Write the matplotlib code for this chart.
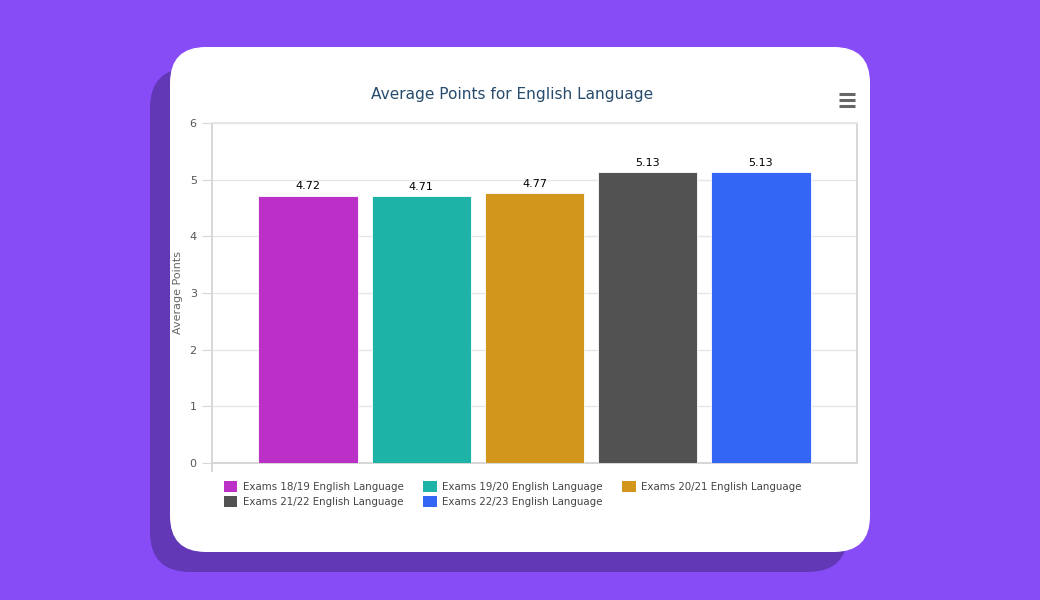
import matplotlib.pyplot as plt
from matplotlib.patches import FancyBboxPatch, Patch

# Datos del grafico
categorias = ['Exams 18/19 English Language', 'Exams 19/20 English Language',
              'Exams 20/21 English Language', 'Exams 21/22 English Language',
              'Exams 22/23 English Language']
puntos = [4.72, 4.71, 4.77, 5.13, 5.13]
colores = ['#bb30c6', '#1db3a7', '#d1961b', '#525252', '#3366f5']
etiquetas = ['4.72', '4.71', '4.77', '5.13', '5.13']

fig = plt.figure(figsize=(10.4, 6), dpi=100)
fig.patch.set_facecolor('#874cf6')

# Fondo: sombra y tarjeta blanca (coordenadas en pixeles)
fondo = fig.add_axes([0, 0, 1, 1], zorder=0)
fondo.set_xlim(0, 1040)
fondo.set_ylim(600, 0)
fondo.axis('off')
fondo.add_patch(FancyBboxPatch((150, 68), 698, 504, boxstyle='round,pad=0,rounding_size=40',
                               facecolor='#6238b7', edgecolor='none'))
fondo.add_patch(FancyBboxPatch((170, 47), 700, 505, boxstyle='round,pad=0,rounding_size=36',
                               facecolor='white', edgecolor='none'))
# icono de menu
for y in (94, 100, 106):
    fondo.plot([839, 855], [y, y], color='#666666', lw=2.2, solid_capstyle='butt')

fondo.text(512, 95, 'Average Points for English Language', ha='center', va='center',
           fontsize=11.1, color='#274b6d')

# Grafico de barras
ax = fig.add_axes([212 / 1040, 137 / 600, 645 / 1040, 340 / 600], zorder=1)
x = list(range(len(puntos)))
barras = ax.bar(x, puntos, width=0.88, color=colores, edgecolor='white', linewidth=0.6, zorder=3)
ax.bar_label(barras, labels=etiquetas, padding=3, fontsize=8, color='black')

ax.set_xlim(-0.85, 4.85)
ax.set_ylim(0, 6)
ax.set_yticks([0, 1, 2, 3, 4, 5, 6])
ax.set_xticks([])
ax.grid(axis='y', color='#e6e6e6', lw=1, zorder=0)
for lado in ['left', 'right', 'top', 'bottom']:
    ax.spines[lado].set_color('#d6d6d6')
    ax.spines[lado].set_linewidth(1.4)
ax.spines['top'].set_color('#e6e6e6')
ax.spines['left'].set_bounds(-0.14, 6)
ax.tick_params(axis='y', length=7, color='#d6d6d6', labelsize=8, labelcolor='#555555', pad=4)
ax.set_ylabel('Average Points', fontsize=8, color='#666666', labelpad=5)

manejadores = [Patch(facecolor=c, edgecolor='none') for c in colores]
orden = [0, 3, 1, 4, 2]
ax.legend([manejadores[i] for i in orden], [categorias[i] for i in orden],
          ncol=3, loc='upper left', bbox_to_anchor=(0.012, -0.04), frameon=False,
          fontsize=7.4, labelcolor='#444444', handlelength=1.3, handleheight=1.3,
          handletextpad=0.55, columnspacing=1.9, labelspacing=0.35, borderaxespad=0)

fig.savefig('out.png', dpi=100, facecolor=fig.get_facecolor())
